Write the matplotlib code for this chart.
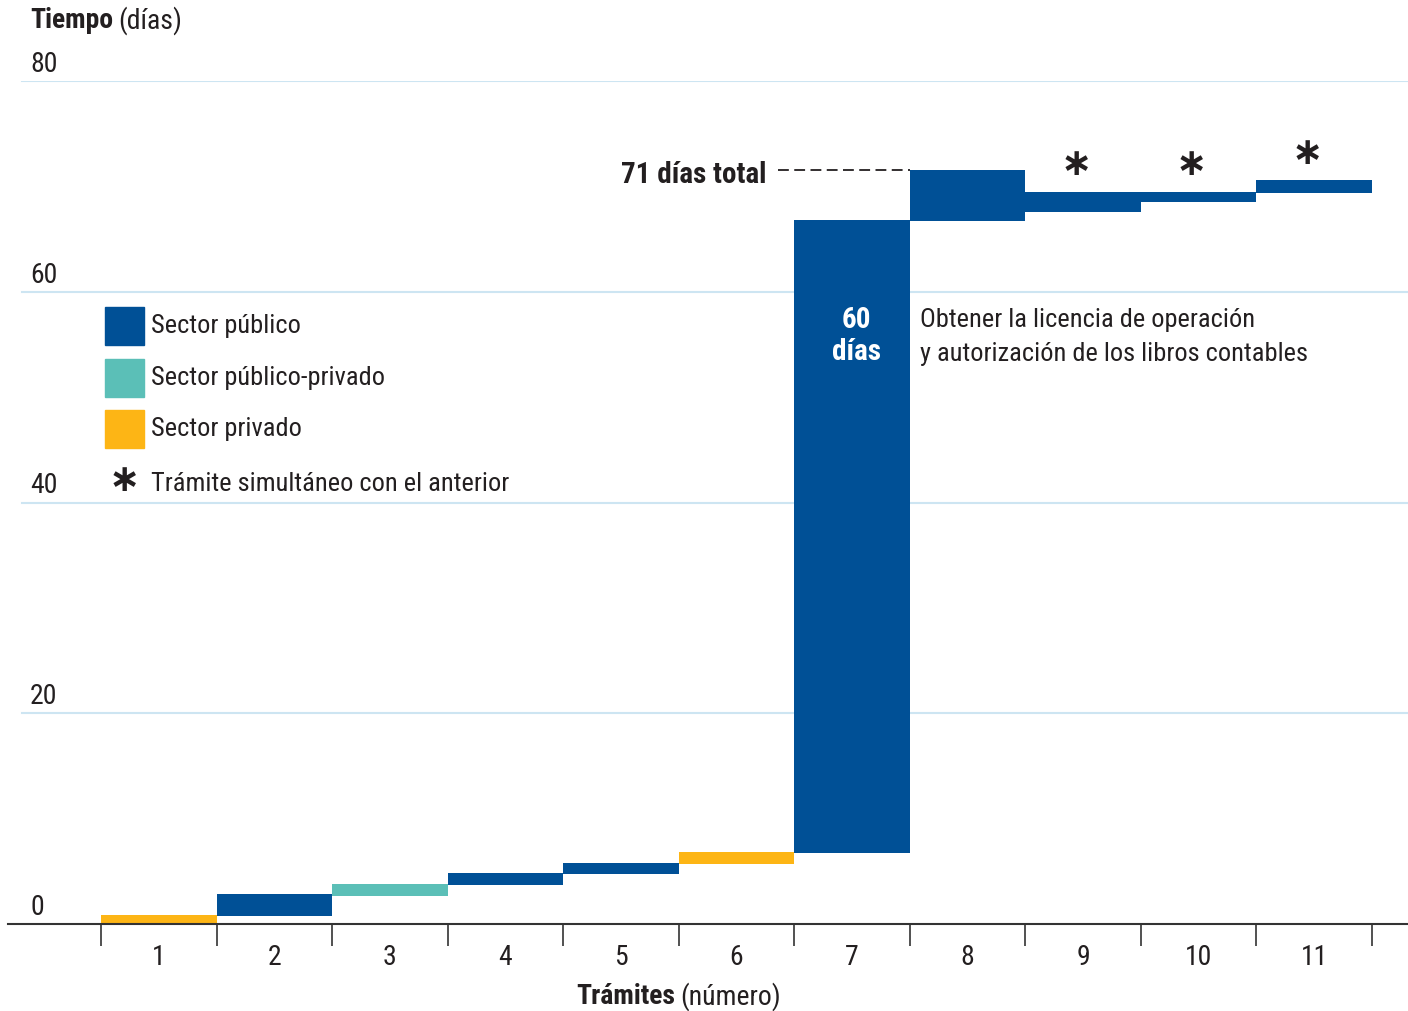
import matplotlib
matplotlib.use("Agg")
import matplotlib.pyplot as plt
import matplotlib.transforms as mtransforms
from matplotlib import font_manager

# pick a narrow font if one is around
names = set(f.name for f in font_manager.fontManager.ttflist)
fam = ["Roboto", "DejaVu Sans"]
fs = 17
fs_t = 17.5
for cand in ["Roboto Condensed", "Liberation Sans Narrow", "Open Sans Condensed"]:
    if cand in names:
        fam = [cand, "DejaVu Sans"]
        fs = 19
        fs_t = 20
        break
plt.rcParams['font.family'] = fam

# data
tramites = [1, 2, 3, 4, 5, 6, 7, 8, 9, 10, 11]
bottoms = [0.0, 0.8, 2.7, 3.7, 4.7, 5.7, 6.7, 66.7, 67.6, 68.5, 69.4]
tops = [0.9, 2.8, 3.8, 4.8, 5.8, 6.8, 66.8, 71.6, 69.5, 69.5, 70.6]
sector = ["privado", "publico", "mixto", "publico", "publico", "privado",
          "publico", "publico", "publico", "publico", "publico"]
simultaneo = [False, False, False, False, False, False, False, False, True, True, True]
yticks = [0, 20, 40, 60, 80]

colores = {"publico": "#005096", "mixto": "#5bbfb7", "privado": "#fdb515"}
txt = "#231f20"
grid_c = "#cde5f2"

fig = plt.figure(figsize=(14.08, 10.12), dpi=100)
ax = fig.add_axes([8/1408, 87/1012, 1400/1408, 843/1012])
ax.set_xlim(0.5 - 93/115.5, 11.5 + 36/115.5)
ax.set_ylim(0, 80)
for s in ["top", "right", "left"]:
    ax.spines[s].set_visible(False)
ax.spines["bottom"].set_color("#333333")
ax.spines["bottom"].set_linewidth(1.5)

# gridlines
for v in yticks[1:]:
    ax.axhline(v, xmin=14/1400, xmax=1, color=grid_c, lw=1.5, zorder=0)
ax.set_yticks([])

trans = mtransforms.blended_transform_factory(ax.transAxes, ax.transData)
for v in yticks:
    ax.text(22/1400, v + 0.4, str(v), transform=trans, fontsize=fs_t,
            color=txt, ha="left", va="bottom")

# bars
alturas = [t - b for t, b in zip(tops, bottoms)]
ax.bar(tramites, alturas, bottom=bottoms, width=1.0,
       color=[colores[s] for s in sector], linewidth=0, zorder=2)

# x ticks
ax.set_xticks([t - 0.5 for t in tramites] + [11.5])
ax.set_xticklabels([])
ax.tick_params(axis="x", which="major", direction="out", length=16, width=1.2, color="#333333")
ax.set_xticks(tramites, minor=True)
ax.set_xticklabels([str(t) for t in tramites], minor=True, fontsize=fs_t, color=txt)
ax.tick_params(axis="x", which="minor", length=0, pad=14)

# asterisks for simultaneous steps
for t, top, sim in zip(tramites, tops, simultaneo):
    if sim:
        ax.text(t - 0.06, top + 2.6, "\u2217", ha="center", va="center",
                fontsize=27, fontweight="bold", color=txt, family="DejaVu Sans")

# total annotation
ax.plot([6.36, 7.5], [tops[7], tops[7]], ls=(0, (6, 3)), color=txt, lw=1.3, zorder=3)
ax.text(6.26, 71.2, "71 días total", ha="right", va="center", fontsize=fs_t + 1,
        fontweight="bold", color=txt)

ax.text(7.04, 55.9, "60\ndías", ha="center", va="center", fontsize=fs_t + 1,
        fontweight="bold", color="white", linespacing=1.15)
ax.text(7.59, 55.8, "Obtener la licencia de operación\ny autorización de los libros contables",
        ha="left", va="center", fontsize=fs, color=txt, linespacing=1.55)

# legend
leg_items = [("publico", "Sector público"), ("mixto", "Sector público-privado"),
             ("privado", "Sector privado")]
for i, (k, lab) in enumerate(leg_items):
    yc = 327 + i * 51.5
    fig.patches.append(plt.Rectangle((105/1408, 1 - (yc + 19)/1012), 39/1408, 38/1012,
                                     transform=fig.transFigure, color=colores[k]))
    fig.text(151/1408, 1 - (yc - 1)/1012, lab, fontsize=fs, color=txt, ha="left", va="center")
fig.text(124/1408, 1 - 481/1012, "\u2217", fontsize=27, fontweight="bold", color=txt,
         ha="center", va="center", family="DejaVu Sans")
fig.text(151/1408, 1 - 484/1012, "Trámite simultáneo con el anterior", fontsize=fs,
         color=txt, ha="left", va="center")

# axis titles
t1 = fig.text(30/1408, 1 - 21/1012, "Tiempo", fontsize=fs_t, fontweight="bold",
              color=txt, ha="left", va="center")
fig.canvas.draw()
bb = t1.get_window_extent()
fig.text(bb.x1/1408 + 5/1408, 1 - 21/1012, "(días)", fontsize=fs_t, color=txt,
         ha="left", va="center")

t2 = fig.text(0, 1 - 997/1012, "Trámites", fontsize=fs_t, fontweight="bold",
              color=txt, ha="left", va="center")
t3 = fig.text(0, 1 - 997/1012, "(número)", fontsize=fs_t, color=txt, ha="left", va="center")
fig.canvas.draw()
w2 = t2.get_window_extent().width
w3 = t3.get_window_extent().width
start = 679 - (w2 + 5 + w3) / 2
t2.set_x(start/1408)
t3.set_x((start + w2 + 5)/1408)

fig.savefig("out.png", dpi=100)
